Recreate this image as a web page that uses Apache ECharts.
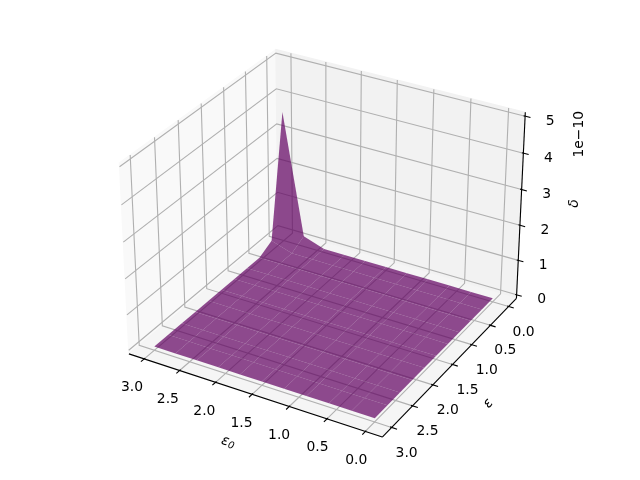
<!DOCTYPE html>
<html>
<head>
<meta charset="utf-8">
<style>
  html, body { margin: 0; padding: 0; background: #fff; }
  #chart { width: 640px; height: 480px; }
</style>
<script src="https://cdn.jsdelivr.net/npm/echarts@6/dist/echarts.min.js"></script>
</head>
<body>
<div id="chart"></div>
<script>
const eps0Values = [0, 0.3, 0.6, 0.9, 1.2, 1.5, 1.8, 2.1, 2.4, 2.7, 3.0];
const epsValues = [0, 0.3, 0.6, 0.9, 1.2, 1.5, 1.8, 2.1, 2.4, 2.7, 3.0];
// delta in units of 1e-10, one row per eps value
const deltaRows = [
  [0, 0, 0, 0, 0, 0, 0, 0, 0, 0.2, 3.65],
  [0, 0, 0, 0, 0, 0, 0, 0, 0, 0, 0.2],
  [0, 0, 0, 0, 0, 0, 0, 0, 0, 0, 0],
  [0, 0, 0, 0, 0, 0, 0, 0, 0, 0, 0],
  [0, 0, 0, 0, 0, 0, 0, 0, 0, 0, 0],
  [0, 0, 0, 0, 0, 0, 0, 0, 0, 0, 0],
  [0, 0, 0, 0, 0, 0, 0, 0, 0, 0, 0],
  [0, 0, 0, 0, 0, 0, 0, 0, 0, 0, 0],
  [0, 0, 0, 0, 0, 0, 0, 0, 0, 0, 0],
  [0, 0, 0, 0, 0, 0, 0, 0, 0, 0, 0],
  [0, 0, 0, 0, 0, 0, 0, 0, 0, 0, 0]
];
const xTicks = ['0.0', '0.5', '1.0', '1.5', '2.0', '2.5', '3.0'];
const yTicks = ['0.0', '0.5', '1.0', '1.5', '2.0', '2.5', '3.0'];
const zTicks = ['0', '1', '2', '3', '4', '5'];

const xLim = [-0.15, 3.15];
const yLim = [-0.15, 3.15];
const zLim = [0, 5];
const pad = lim => (lim[1] - lim[0]) / 48;
const xLo = xLim[0] - pad(xLim), xHi = xLim[1] + pad(xLim);
const yLo = yLim[0] - pad(yLim), yHi = yLim[1] + pad(yLim);
const zLo = zLim[0] - pad(zLim), zHi = zLim[1] + pad(zLim);

// same camera as a default 3d axes: elev 30, azim 120, distance 10
const elev = 30 * Math.PI / 180;
const azim = 120 * Math.PI / 180;
const dist = 10;
const boxK = 1.8294640721620434 * 25 / 24 / Math.sqrt(41);
const box = [4 * boxK, 4 * boxK, 3 * boxK];
const scale = 2340, centerX = 326.4, centerY = 233.5;

const sub = (a, b) => [a[0] - b[0], a[1] - b[1], a[2] - b[2]];
const dot = (a, b) => a[0] * b[0] + a[1] * b[1] + a[2] * b[2];
const cross = (a, b) => [a[1] * b[2] - a[2] * b[1], a[2] * b[0] - a[0] * b[2], a[0] * b[1] - a[1] * b[0]];
const unit = a => { const n = Math.sqrt(dot(a, a)); return [a[0] / n, a[1] / n, a[2] / n]; };

const mid = [box[0] / 2, box[1] / 2, box[2] / 2];
const w = [Math.cos(elev) * Math.cos(azim), Math.cos(elev) * Math.sin(azim), Math.sin(elev)];
const eye = [mid[0] + dist * w[0], mid[1] + dist * w[1], mid[2] + dist * w[2]];
const u = unit(cross([0, 0, 1], w));
const v = cross(w, u);

const viewOf = p => {
  const q = sub([
    (p[0] - xLim[0]) / (xLim[1] - xLim[0]) * box[0],
    (p[1] - yLim[0]) / (yLim[1] - yLim[0]) * box[1],
    (p[2] - zLim[0]) / (zLim[1] - zLim[0]) * box[2]
  ], eye);
  return [dot(q, u), dot(q, v), dot(q, w)];
};
const project = p => {
  const c = viewOf(p);
  return [centerX + scale * c[0] / -c[2], centerY - scale * c[1] / -c[2]];
};

// surface cells, far ones first
const cells = [];
for (let j = 0; j < epsValues.length - 1; j++) {
  for (let i = 0; i < eps0Values.length - 1; i++) {
    const corners = [[i, j], [i + 1, j], [i + 1, j + 1], [i, j + 1]]
      .map(c => [eps0Values[c[0]], epsValues[c[1]], deltaRows[c[1]][c[0]]]);
    const depth = corners.reduce((s, c) => s + viewOf(c)[2], 0) / 4;
    cells.push({ corners, depth });
  }
}
cells.sort((a, b) => a.depth - b.depth);

const panes = [
  { color: '#f9f9f9', pts: [[xHi, yLo, zLo], [xHi, yHi, zLo], [xHi, yHi, zHi], [xHi, yLo, zHi]] },
  { color: '#f2f2f2', pts: [[xLo, yLo, zLo], [xHi, yLo, zLo], [xHi, yLo, zHi], [xLo, yLo, zHi]] },
  { color: '#f5f5f5', pts: [[xLo, yLo, zLo], [xHi, yLo, zLo], [xHi, yHi, zLo], [xLo, yHi, zLo]] }
];

const gridPaths = [];
xTicks.forEach(t => gridPaths.push([[+t, yHi, zLo], [+t, yLo, zLo], [+t, yLo, zHi]]));
yTicks.forEach(t => gridPaths.push([[xLo, +t, zLo], [xHi, +t, zLo], [xHi, +t, zHi]]));
zTicks.forEach(t => gridPaths.push([[xLo, yLo, +t], [xHi, yLo, +t], [xHi, yHi, +t]]));

const axisLines = [
  [[xLo, yHi, zLo], [xHi, yHi, zLo]],
  [[xLo, yLo, zLo], [xLo, yHi, zLo]],
  [[xLo, yLo, zLo], [xLo, yLo, zHi]]
];
const tickLines = [];
xTicks.forEach(t => tickLines.push([[+t, yHi - 0.02, zLo], [+t, yHi + 0.07, zLo]]));
yTicks.forEach(t => tickLines.push([[xLo + 0.02, +t, zLo], [xLo - 0.07, +t, zLo]]));
zTicks.forEach(t => tickLines.push([[xLo + 0.02, yLo, +t], [xLo - 0.07, yLo, +t]]));

const tickFont = '13.9px "DejaVu Sans"';
const labels = [];
xTicks.forEach(t => labels.push({ text: t, at: [+t, yHi, zLo], dx: -9 - 1.1 * t, dy: 29 }));
yTicks.forEach(t => labels.push({ text: t, at: [xLo, +t, zLo], dx: 15, dy: 25.5 }));
zTicks.forEach(t => labels.push({ text: t, at: [xLo, yLo, +t], dx: 25, dy: 5 }));
labels.push({ text: '{e|ε}{s|0}', at: [1.5, yHi, zLo], dx: -24, dy: 48, rot: -18 });
labels.push({ text: 'ε', at: [xLo, 1.5, zLo], dx: 36, dy: 39, rot: 50, italic: true });
labels.push({ text: 'δ', at: [xLo, yLo, 2.5], dx: 54, dy: -4, rot: 90, italic: true });
labels.push({ text: '1e−10', at: [xLo, yLo, 5], dx: 54, dy: 18, rot: 90 });

const layer = (list, draw) => ({
  type: 'custom',
  coordinateSystem: 'cartesian2d',
  silent: true,
  clip: false,
  animation: false,
  data: list.map((_, i) => [i]),
  renderItem: (params, api) => draw(list[params.dataIndex], p => api.coord(project(p)))
});

const chart = echarts.init(document.getElementById('chart'), null, { renderer: 'canvas' });
chart.setOption({
  animation: false,
  backgroundColor: '#ffffff',
  grid: { left: 0, right: 0, top: 0, bottom: 0 },
  xAxis: { type: 'value', min: 0, max: 640, show: false },
  yAxis: { type: 'value', min: 0, max: 480, inverse: true, show: false },
  series: [
    layer(panes, (d, px) => ({
      type: 'polygon',
      shape: { points: d.pts.map(px) },
      style: { fill: d.color, stroke: d.color, lineWidth: 1 }
    })),
    layer(gridPaths, (d, px) => ({
      type: 'polyline',
      shape: { points: d.map(px) },
      style: { fill: 'none', stroke: '#b0b0b0', lineWidth: 1.11 }
    })),
    layer(axisLines.concat(tickLines), (d, px) => ({
      type: 'polyline',
      shape: { points: d.map(px) },
      style: { fill: 'none', stroke: '#000', lineWidth: 1.11 }
    })),
    layer(cells, (d, px) => ({
      type: 'polygon',
      shape: { points: d.corners.map(px) },
      style: { fill: 'rgba(97, 0, 97, 0.7)' }
    })),
    layer(labels, (d, px) => {
      const p = px(d.at);
      return {
        type: 'text',
        x: p[0] + d.dx,
        y: p[1] + d.dy,
        rotation: (d.rot || 0) * Math.PI / 180,
        style: {
          text: d.text,
          font: (d.italic ? 'italic ' : '') + tickFont,
          fill: '#000',
          align: 'center',
          verticalAlign: 'middle',
          rich: {
            e: { font: 'italic ' + tickFont },
            s: { font: 'italic 9.7px "DejaVu Sans"', verticalAlign: 'bottom', padding: [5, 0, 0, 0] }
          }
        }
      };
    })
  ]
});
</script>
</body>
</html>
